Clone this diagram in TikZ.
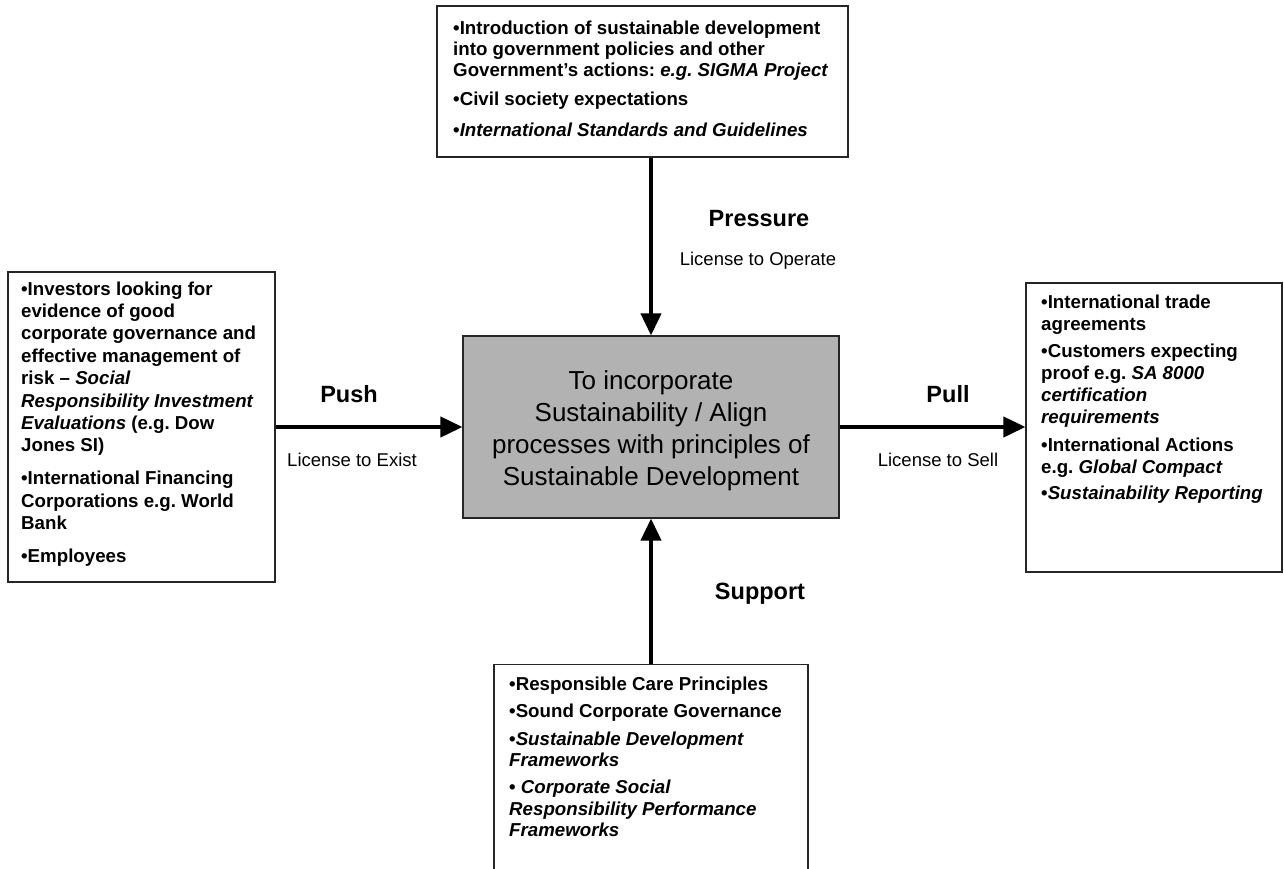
\documentclass[tikz,border=0pt]{standalone}
\usepackage{fontspec}
\setmainfont{Liberation Sans}
\usetikzlibrary{arrows.meta}
\frenchspacing
\begin{document}
\begin{tikzpicture}[x=1pt,y=-1pt]
\tikzset{
  frame/.style={draw=black!85, line width=1.1pt, fill=white, rectangle, inner sep=0pt},
  corebox/.style={draw=black!85, line width=1.1pt, fill=black!30, rectangle, inner sep=0pt},
  itemtext/.style={anchor=base west, align=left, inner sep=0pt},
  flow/.style={line width=4pt, -{Triangle[length=22pt,width=20pt]}},
  forcelabel/.style={font=\fontsize{23.5}{28}\selectfont\bfseries, anchor=base, inner sep=0pt},
  licence/.style={font=\fontsize{18.5}{22}\selectfont, anchor=base, inner sep=0pt}
}
\useasboundingbox (0,0) rectangle (1284,869);
\clip (0,0) rectangle (1284,869);

% boxes
\node[frame, minimum width=411pt, minimum height=151pt] (pressurebox) at (642.5,81.5) {};
\node[frame, minimum width=267pt, minimum height=310pt] (pushbox) at (141.5,427) {};
\node[frame, minimum width=256pt, minimum height=289pt] (pullbox) at (1154,427.5) {};
\node[frame, minimum width=314pt, minimum height=235pt] (supportbox) at (651,782) {};
\node[corebox, minimum width=376pt, minimum height=182pt] (core) at (651,427) {};

% core text (anchored at the baseline of its last line)
\node[anchor=base, align=center, inner sep=0pt, font=\fontsize{26}{32}\selectfont] (coretext) at (651,485)
  {To incorporate\\ Sustainability / Align\\ processes with principles of\\ Sustainable Development};

% box texts (anchored at the baseline of their last line)
\node[itemtext, font=\fontsize{18.7}{21}\selectfont\bfseries] (pressuretext) at (453,137)
  {•Introduction of sustainable development\\ into government policies and other\\ Government’s actions: \textit{e.g. SIGMA Project}\\[8pt]
   •Civil society expectations\\[10pt]
   •\textit{International Standards and Guidelines}};

\node[itemtext, font=\fontsize{18.7}{22.4}\selectfont\bfseries] (pushtext) at (21,562.6)
  {•Investors looking for\\ evidence of good\\ corporate governance and\\ effective management of\\ risk – \textit{Social}\\ \textit{Responsibility Investment}\\ \textit{Evaluations} (e.g. Dow\\ Jones SI)\\[10.6pt]
   •International Financing\\ Corporations e.g. World\\ Bank\\[10.6pt]
   •Employees};

\node[itemtext, font=\fontsize{18.7}{22}\selectfont\bfseries] (pulltext) at (1041,499)
  {•International trade\\ agreements\\[5pt]
   •Customers expecting\\ proof e.g. \textit{SA 8000}\\ \textit{certification}\\ \textit{requirements}\\[6pt]
   •International Actions\\ e.g. \textit{Global Compact}\\[4pt]
   •\textit{Sustainability Reporting}};

\node[itemtext, font=\fontsize{18.7}{21.5}\selectfont\bfseries] (supporttext) at (509,836.5)
  {•Responsible Care Principles\\[5.5pt]
   •Sound Corporate Governance\\[6.5pt]
   •\textit{Sustainable Development}\\ \textit{Frameworks}\\[5.5pt]
   • \textit{Corporate Social}\\ \textit{Responsibility Performance}\\ \textit{Frameworks}};

% connectors
\draw[flow] (core.north |- pressurebox.south) -- (core.north);
\draw[flow] (core.south |- supportbox.north) -- (core.south);
\draw[flow] (pushbox.east |- core.west) -- (core.west);
\draw[flow] (core.east) -- (core.east -| pullbox.west);

% labels
\node[forcelabel] (pressurelbl) at (759,226) {Pressure};
\node[licence] (operatelbl) at (758,265) {License to Operate};
\node[forcelabel] (pushlbl) at (349,402) {Push};
\node[licence] (existlbl) at (352,466) {License to Exist};
\node[forcelabel] (pulllbl) at (948,402) {Pull};
\node[licence] (selllbl) at (938,466) {License to Sell};
\node[forcelabel] (supportlbl) at (760,599) {Support};
\end{tikzpicture}
\end{document}
